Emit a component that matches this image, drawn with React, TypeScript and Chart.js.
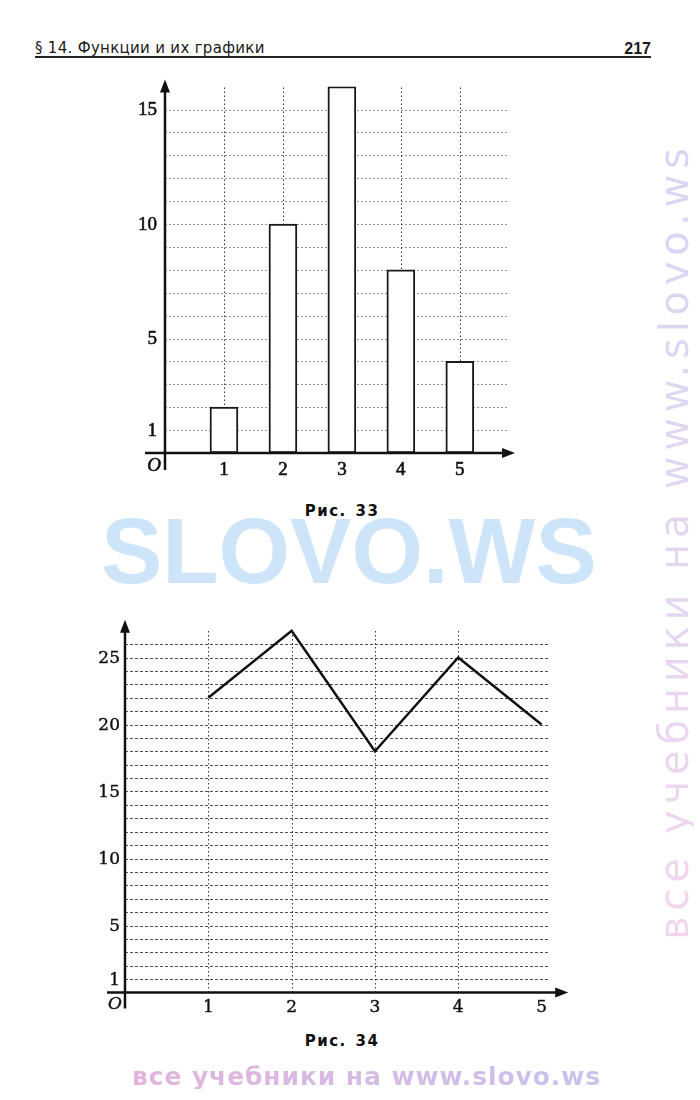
import React, { useEffect, useRef } from "react";
import { Chart, registerables } from "chart.js";

Chart.register(...registerables);

// Рис. 33 — столбчатая диаграмма
const barCategories = [1, 2, 3, 4, 5];
const barValues = [2, 10, 16, 8, 4];
const barYTickLabels = [1, 5, 10, 15];
const barXTickLabels = [1, 2, 3, 4, 5];
const barGridRows = [1, 2, 3, 4, 5, 6, 7, 8, 9, 10, 11, 12, 13, 14, 15];
const barGridCols = [1, 2, 3, 4, 5];

// Рис. 34 — ломаная
const lineCategories = [1, 2, 3, 4, 5];
const lineValues = [22, 27, 18, 25, 20];
const lineYTickLabels = [1, 5, 10, 15, 20, 25];
const lineXTickLabels = [1, 2, 3, 4, 5];
const lineGridRows = [
  1, 2, 3, 4, 5, 6, 7, 8, 9, 10, 11, 12, 13, 14, 15, 16, 17, 18, 19, 20, 21, 22, 23, 24, 25, 26,
];
const lineGridCols = [1, 2, 3, 4];

type AxesStyle = {
  rows: number[];
  cols: number[];
  yLabels: number[];
  xLabels: number[];
  rowColor: string;
  rowDash: number[];
  colColor: string;
  colDash: number[];
  font: string;
  italicFont: string;
  labelStroke: number;
  yLabelGap: number;
  xLabelDrop: number;
  originAt: [number, number];
  yOver: number;
  yUnder: number;
  xOver: number;
  xUnder: number;
};

// Dotted grid under the marks, then arrowed axes and labels on top
function makeAxesPlugin(s: AxesStyle) {
  return {
    id: "arrowAxes",
    beforeDatasetsDraw(chart: any) {
      const { ctx, chartArea, scales } = chart;
      const x0 = scales.x.getPixelForValue(0);
      const y0 = scales.y.getPixelForValue(0);
      ctx.save();
      ctx.lineWidth = 1;
      ctx.strokeStyle = s.rowColor;
      ctx.setLineDash(s.rowDash);
      for (const v of s.rows) {
        const y = Math.round(scales.y.getPixelForValue(v)) + 0.5;
        ctx.beginPath();
        ctx.moveTo(x0, y);
        ctx.lineTo(chartArea.right, y);
        ctx.stroke();
      }
      ctx.strokeStyle = s.colColor;
      ctx.setLineDash(s.colDash);
      for (const v of s.cols) {
        const x = Math.round(scales.x.getPixelForValue(v)) + 0.5;
        ctx.beginPath();
        ctx.moveTo(x, y0);
        ctx.lineTo(x, chartArea.top);
        ctx.stroke();
      }
      ctx.restore();
    },
    afterDatasetsDraw(chart: any) {
      const { ctx, chartArea, scales } = chart;
      const x0 = scales.x.getPixelForValue(0);
      const y0 = scales.y.getPixelForValue(0);
      const head = 13;
      const half = 5;
      ctx.save();
      ctx.setLineDash([]);
      ctx.strokeStyle = "#111";
      ctx.fillStyle = "#111";
      ctx.lineWidth = 2.5;
      // vertical axis
      const yTip = chartArea.top - s.yOver;
      ctx.beginPath();
      ctx.moveTo(x0, y0 + s.yUnder);
      ctx.lineTo(x0, yTip + head - 2);
      ctx.stroke();
      ctx.beginPath();
      ctx.moveTo(x0, yTip);
      ctx.lineTo(x0 - half, yTip + head);
      ctx.lineTo(x0 + half, yTip + head);
      ctx.closePath();
      ctx.fill();
      // horizontal axis
      const xTip = chartArea.right + s.xOver;
      ctx.beginPath();
      ctx.moveTo(x0 - s.xUnder, y0);
      ctx.lineTo(xTip - head + 2, y0);
      ctx.stroke();
      ctx.beginPath();
      ctx.moveTo(xTip, y0);
      ctx.lineTo(xTip - head, y0 - half);
      ctx.lineTo(xTip - head, y0 + half);
      ctx.closePath();
      ctx.fill();
      // tick labels
      ctx.lineWidth = s.labelStroke;
      ctx.lineJoin = "round";
      const put = (t: string, x: number, y: number) => {
        ctx.fillText(t, x, y);
        if (s.labelStroke > 0) ctx.strokeText(t, x, y);
      };
      ctx.font = s.font;
      ctx.textAlign = "right";
      ctx.textBaseline = "middle";
      for (const v of s.yLabels) {
        put(String(v), x0 - s.yLabelGap, scales.y.getPixelForValue(v) + 1);
      }
      ctx.textAlign = "center";
      for (const v of s.xLabels) {
        put(String(v), scales.x.getPixelForValue(v), y0 + s.xLabelDrop);
      }
      ctx.font = s.italicFont;
      put("O", x0 + s.originAt[0], y0 + s.originAt[1]);
      ctx.restore();
    },
  };
}

function BarFigure() {
  const ref = useRef<HTMLCanvasElement | null>(null);
  useEffect(() => {
    if (!ref.current) return;
    const chart = new Chart(ref.current, {
      type: "bar",
      data: {
        datasets: [
          {
            data: barCategories.map((c, i) => ({ x: c, y: barValues[i] })),
            backgroundColor: "#ffffff",
            borderColor: "#1a1a1a",
            borderWidth: 2,
            borderSkipped: false,
            barThickness: 28,
          },
        ],
      },
      options: {
        animation: false,
        responsive: false,
        events: [],
        layout: { padding: { left: 65, right: 33, top: 26.6, bottom: 37 } },
        plugins: { legend: { display: false }, tooltip: { enabled: false } },
        scales: {
          x: { type: "linear", display: false, min: 0, max: 5.8, offset: false },
          y: { type: "linear", display: false, min: 0, max: 16 },
        },
      },
      plugins: [
        makeAxesPlugin({
          rows: barGridRows,
          cols: barGridCols,
          yLabels: barYTickLabels,
          xLabels: barXTickLabels,
          rowColor: "rgba(40,40,40,0.5)",
          rowDash: [2, 2],
          colColor: "rgba(20,20,20,0.85)",
          colDash: [1.5, 2.5],
          font: "19px 'Liberation Serif'",
          italicFont: "italic 19px 'Liberation Serif'",
          labelStroke: 0.6,
          yLabelGap: 8,
          xLabelDrop: 17,
          originAt: [-11, 13],
          yOver: 7,
          yUnder: 17,
          xOver: 8,
          xUnder: 20,
        }),
      ],
    } as any);
    return () => chart.destroy();
  }, []);
  return (
    <canvas
      ref={ref}
      width={440}
      height={430}
      style={{ position: "absolute", left: 100, top: 60, width: 440, height: 430 }}
    />
  );
}

function LineFigure() {
  const ref = useRef<HTMLCanvasElement | null>(null);
  useEffect(() => {
    if (!ref.current) return;
    const chart = new Chart(ref.current, {
      type: "line",
      data: {
        datasets: [
          {
            data: lineCategories.map((c, i) => ({ x: c, y: lineValues[i] })),
            borderColor: "#111111",
            borderWidth: 2.5,
            pointRadius: 0,
            tension: 0,
            fill: false,
            clip: false,
            borderJoinStyle: "miter",
          },
        ],
      },
      options: {
        animation: false,
        responsive: false,
        events: [],
        layout: { padding: { left: 65, right: 51.8, top: 30.7, bottom: 37.5 } },
        plugins: { legend: { display: false }, tooltip: { enabled: false } },
        scales: {
          x: { type: "linear", display: false, min: 0, max: 5.08 },
          y: { type: "linear", display: false, min: 0, max: 27 },
        },
      },
      plugins: [
        makeAxesPlugin({
          rows: lineGridRows,
          cols: lineGridCols,
          yLabels: lineYTickLabels,
          xLabels: lineXTickLabels,
          rowColor: "rgba(20,20,20,0.75)",
          rowDash: [3, 2],
          colColor: "rgba(20,20,20,0.85)",
          colDash: [1.5, 2.5],
          font: "17px 'DejaVu Serif'",
          italicFont: "italic 17px 'DejaVu Serif'",
          labelStroke: 0.4,
          yLabelGap: 5,
          xLabelDrop: 15,
          originAt: [-10, 12],
          yOver: 11,
          yUnder: 16,
          xOver: 20,
          xUnder: 18,
        }),
      ],
    } as any);
    return () => chart.destroy();
  }, []);
  return (
    <canvas
      ref={ref}
      width={540}
      height={430}
      style={{ position: "absolute", left: 60, top: 600, width: 540, height: 430 }}
    />
  );
}

const abs = (o: React.CSSProperties): React.CSSProperties => ({
  position: "absolute",
  whiteSpace: "nowrap",
  margin: 0,
  ...o,
});

export default function App() {
  return (
    <div
      style={{
        position: "absolute",
        left: 0,
        top: 0,
        width: 700,
        height: 1100,
        background: "#ffffff",
        overflow: "hidden",
      }}
    >
      <div
        style={abs({
          left: 35,
          top: 41.3,
          font: "15px/15px 'DejaVu Sans'",
          letterSpacing: "0.3px",
          color: "#1a1a1a",
        })}
      >
        § 14. Функции и их графики
      </div>
      <div
        style={abs({
          right: 49,
          top: 41,
          font: "bold 16px/16px 'Liberation Sans'",
          color: "#1a1a1a",
        })}
      >
        217
      </div>
      <div style={abs({ left: 35, top: 56, width: 616, height: 1.6, background: "#222" })} />

      <div
        style={abs({
          left: 101,
          top: 505,
          font: "bold 92px/92px 'Liberation Sans'",
          color: "rgb(206,229,249)",
        })}
      >
        SLOVO.WS
      </div>

      <div
        style={abs({
          left: 654,
          top: 940,
          font: "40px/40px 'DejaVu Sans'",
          letterSpacing: "5.8px",
          transformOrigin: "0 0",
          transform: "rotate(-90deg)",
          background: "linear-gradient(to right, rgb(242,214,238), rgb(214,214,242))",
          WebkitBackgroundClip: "text",
          backgroundClip: "text",
          color: "transparent",
        })}
      >
        все учебники на www.slovo.ws
      </div>

      <BarFigure />
      <LineFigure />

      <div
        style={abs({
          left: 342,
          top: 504.3,
          transform: "translateX(-50%)",
          font: "bold 15px/15px 'DejaVu Sans'",
          letterSpacing: "1.5px",
          wordSpacing: "2px",
          color: "#111",
        })}
      >
        Рис. 33
      </div>
      <div
        style={abs({
          left: 342,
          top: 1034.3,
          transform: "translateX(-50%)",
          font: "bold 15px/15px 'DejaVu Sans'",
          letterSpacing: "1.5px",
          wordSpacing: "2px",
          color: "#111",
        })}
      >
        Рис. 34
      </div>

      <div
        style={abs({
          left: 132,
          top: 1064,
          font: "bold 25px/25px 'DejaVu Sans'",
          letterSpacing: "0.9px",
          background: "linear-gradient(to right, rgb(226,180,220), rgb(200,194,236))",
          WebkitBackgroundClip: "text",
          backgroundClip: "text",
          color: "transparent",
        })}
      >
        все учебники на www.slovo.ws
      </div>
    </div>
  );
}
